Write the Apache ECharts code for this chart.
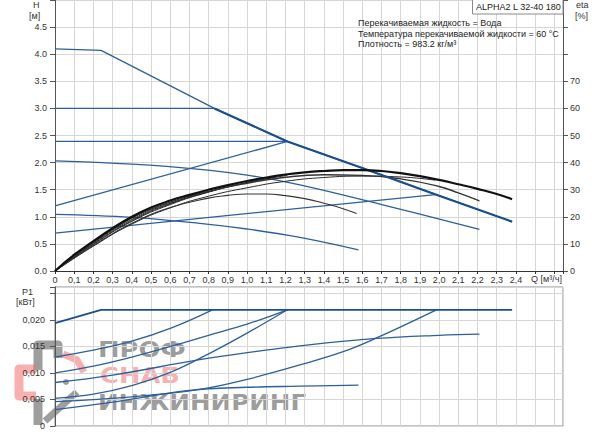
<!DOCTYPE html>
<html>
<head>
<meta charset="utf-8">
<script src="https://cdn.jsdelivr.net/npm/echarts@6/dist/echarts.min.js"></script>
<style>
html,body{margin:0;padding:0;background:#fff;}
#chart{width:600px;height:434px;}
</style>
</head>
<body>
<div id="chart"></div>
<script>
// ---------- DATA ----------
const qLabels = ['0','0,1','0,2','0,3','0,4','0,5','0,6','0,7','0,8','0,9','1,0','1,1','1,2','1,3','1,4','1,5','1,6','1,7','1,8','1,9','2,0','2,1','2,2','2,3','2,4'];
const hLabels = ['0.0','0.5','1.0','1.5','2.0','2.5','3.0','3.5','4.0','4.5'];
const etaLabels = ['0','10','20','30','40','50','60','70'];
const pLabels = ['0','0,005','0,010','0,015','0,020'];

// QH curves [Q m3/h, H m]
const qhMax  = [[0,4.10],[0.24,4.07],[0.83,3.00],[1.21,2.39],[1.6,1.90],[2.0,1.39],[2.38,0.91]];
const qhCP3  = [[0,3.00],[0.83,3.00]];
const qhCP24 = [[0,2.39],[1.21,2.39]];
const qhPP2  = [[0,1.20],[1.21,2.39]];
const qhPP1  = [[0,0.70],[1.98,1.41]];
const qhII   = [[0,2.03],[0.4,1.97],[0.754,1.876],[1.0,1.77],[1.275,1.587],[1.743,1.187],[2.21,0.77]];
const qhI    = [[0,1.045],[0.4,0.99],[0.754,0.88],[1.0,0.775],[1.275,0.62],[1.58,0.39]];

// efficiency curves [Q, eta %]
const etaMax  = [[0,0],[0.1,6.0],[0.2,11.0],[0.3,15.8],[0.4,20.0],[0.5,23.4],[0.6,26.0],[0.7,28.1],[0.8,30.0],[0.9,31.7],[1.0,33.2],[1.1,34.5],[1.2,35.6],[1.3,36.4],[1.4,36.9],[1.5,37.2],[1.6,37.2],[1.7,36.9],[1.8,36.1],[1.9,35.0],[2.0,33.6],[2.1,32.0],[2.2,30.3],[2.3,28.4],[2.38,26.5]];
const etaII   = [[0,0],[0.2,10.6],[0.4,19.6],[0.6,25.4],[0.8,29.4],[1.0,32.4],[1.2,34.6],[1.4,35.5],[1.6,35.3],[1.8,34.0],[2.0,31.2],[2.1,28.8],[2.21,25.9]];
const etaI    = [[0,0],[0.2,9.4],[0.4,17.6],[0.6,23.4],[0.8,26.9],[0.9,27.9],[1.0,28.4],[1.1,28.4],[1.2,27.8],[1.3,26.7],[1.4,25.0],[1.5,23.0],[1.57,21.2]];
const etaCP3  = [[0,0],[0.2,10.3],[0.4,19.0],[0.6,25.0],[0.83,29.8]];
const etaCP24 = [[0,0],[0.2,10.0],[0.4,18.6],[0.6,24.8],[0.8,29.2],[1.0,32.6],[1.21,35.3]];
const etaPP2  = [[0,0],[0.2,9.8],[0.4,18.3],[0.6,24.5],[0.8,29.1],[1.0,32.7],[1.21,35.6]];
const etaPP1  = [[0,0],[0.2,9.2],[0.4,17.3],[0.6,23.3],[0.8,27.6],[1.0,30.7],[1.2,33.1],[1.4,34.5],[1.6,35.0],[1.8,34.7],[1.98,33.5]];

// P1 curves [Q, kW]
const pMax  = [[0,0.0194],[0.24,0.0219],[2.38,0.0219]];
const pCP3  = [[0,0.0130],[0.2,0.0143],[0.4,0.0160],[0.6,0.0184],[0.82,0.0219]];
const pCP24 = [[0,0.0100],[0.2,0.0113],[0.4,0.0130],[0.65,0.0155],[0.8,0.0171],[1.0,0.0192],[1.21,0.0219]];
const pPP2  = [[0,0.0052],[0.2,0.0060],[0.4,0.0076],[0.6,0.0101],[0.8,0.0136],[1.0,0.0175],[1.21,0.0219]];
const pPP1  = [[0,0.0046],[0.4,0.0055],[0.754,0.0069],[1.0,0.0088],[1.275,0.0115],[1.5,0.0140],[1.674,0.0166],[1.986,0.0219]];
const pII   = [[0,0.0082],[0.3,0.0096],[0.754,0.0125],[1.04,0.0140],[1.275,0.0151],[1.674,0.0165],[2.0,0.0171],[2.21,0.0173]];
const pI    = [[0,0.0031],[0.32,0.0046],[0.7,0.0067],[1.0,0.0073],[1.275,0.0075],[1.58,0.0077]];

const pumpName = 'ALPHA2 L 32-40 180';
const infoLines = ['Перекачиваемая жидкость = Вода','Температура перекачиваемой жидкости = 60 °C','Плотность = 983.2 кг/м³'];
const watermark = ['ПРОФ','СНАБ','ИНЖИНИРИНГ'];

// ---------- CHART ----------
const FONT = "'Liberation Sans', Arial, sans-serif";
const BLUE = '#2d5f9a';
const BLUE_D = '#1b4f8c';
const GRIDC = '#d6d6d6';
const WM_GRAY = 'rgba(120,120,120,0.72)';
const WM_RED = 'rgba(240,110,110,0.55)';
const chart = echarts.init(document.getElementById('chart'), null, {renderer:'svg'});

function qFmt(v){ const i=Math.round(v*10); return (Math.abs(v*10-i)<1e-6 && i<qLabels.length) ? qLabels[i] : ''; }
function hFmt(v){ const i=Math.round(v*2); return (Math.abs(v*2-i)<1e-6 && i<hLabels.length) ? hLabels[i] : ''; }
function eFmt(v){ const i=Math.round(v/10); return (Math.abs(v/10-i)<1e-6 && i<etaLabels.length) ? etaLabels[i] : ''; }
function pFmt(v){ const i=Math.round(v/0.005); return (Math.abs(v/0.005-i)<1e-6 && i<pLabels.length) ? pLabels[i] : ''; }

function ln(data, x, y, color, width, smooth, z){
  return {type:'line', data:data, xAxisIndex:x, yAxisIndex:y, symbol:'none', smooth:smooth||false,
    lineStyle:{color:color, width:width}, z:z||3, silent:true};
}

const labelStyle = {fontFamily:FONT, fontSize:9, color:'#333'};

const option = {
  animation:false,
  grid:[
    {left:55, right:37, top:0, bottom:163, show:false},
    {left:55, right:37, top:287, bottom:8, show:true, borderColor:'#8a8a8a', borderWidth:1}
  ],
  xAxis:[
    {type:'value', gridIndex:0, min:0, max:2.645, interval:0.1,
     axisLine:{show:true, onZero:false, lineStyle:{color:'#333', width:1}},
     axisTick:{show:true, length:3, lineStyle:{color:'#333'}},
     axisLabel:Object.assign({margin:4, formatter:qFmt, showMaxLabel:true}, labelStyle),
     splitLine:{show:true, lineStyle:{color:GRIDC, width:1}}},
    {type:'value', gridIndex:1, min:0, max:2.645, interval:0.1,
     axisLine:{show:false}, axisTick:{show:false}, axisLabel:{show:false},
     splitLine:{show:true, lineStyle:{color:GRIDC, width:1}}}
  ],
  yAxis:[
    {type:'value', gridIndex:0, min:0, max:5, interval:0.5, position:'left',
     axisLine:{show:true, lineStyle:{color:'#555', width:1}},
     axisTick:{show:true, length:5, lineStyle:{color:'#555'}},
     axisLabel:Object.assign({margin:8, formatter:hFmt}, labelStyle),
     splitLine:{show:true, lineStyle:{color:GRIDC, width:1}}},
    {type:'value', gridIndex:0, min:0, max:100, interval:10, position:'right',
     axisLine:{show:true, lineStyle:{color:'#555', width:1}},
     axisTick:{show:true, length:5, lineStyle:{color:'#555'}},
     axisLabel:Object.assign({margin:7, formatter:eFmt}, labelStyle),
     splitLine:{show:false}},
    {type:'value', gridIndex:1, min:0, max:0.0262, interval:0.005, position:'left',
     axisLine:{show:true, lineStyle:{color:'#555', width:1}},
     axisTick:{show:true, length:5, lineStyle:{color:'#555'}},
     axisLabel:Object.assign({margin:10, formatter:pFmt}, labelStyle),
     splitLine:{show:true, lineStyle:{color:GRIDC, width:1}}}
  ],
  series:[
    ln(qhCP3,0,0,BLUE,1.3),
    ln(qhCP24,0,0,BLUE,1.3),
    ln(qhPP2,0,0,BLUE,1.3),
    ln(qhPP1,0,0,BLUE,1.3),
    ln(qhII,0,0,BLUE,1.3,0.4),
    ln(qhI,0,0,BLUE,1.3,0.4),
    ln(qhMax,0,0,BLUE,1.3),
    ln(qhMax.filter(p=>p[0]>=0.83),0,0,BLUE_D,2.2,false,4),
    ln(etaCP3,0,1,'#2a2a2a',1,0.5),
    ln(etaCP24,0,1,'#2a2a2a',1,0.5),
    ln(etaPP2,0,1,'#2a2a2a',1,0.5),
    ln(etaPP1,0,1,'#2a2a2a',1,0.5),
    ln(etaI,0,1,'#333',1.1,0.5),
    ln(etaII,0,1,'#333',1.4,0.5),
    ln(etaMax,0,1,'#111',2.2,0.5,5),
    ln(pCP3,1,2,BLUE,1.3,0.4),
    ln(pCP24,1,2,BLUE,1.3,0.4),
    ln(pPP2,1,2,BLUE,1.3,0.4),
    ln(pPP1,1,2,BLUE,1.3,0.4),
    ln(pII,1,2,BLUE,1.3,0.4),
    ln(pI,1,2,BLUE,1.3,0.4),
    ln(pMax,1,2,BLUE_D,1.8)
  ],
  graphic:[
    {type:'text', left:33, top:0, style:{text:'H', font:'9px '+FONT, fill:'#333'}},
    {type:'text', left:29, top:11, style:{text:'[м]', font:'9px '+FONT, fill:'#333'}},
    {type:'text', left:576, top:0, style:{text:'eta', font:'9px '+FONT, fill:'#333'}},
    {type:'text', left:575, top:11, style:{text:'[%]', font:'9px '+FONT, fill:'#333'}},
    {type:'text', left:531, top:274, style:{text:'Q [м³/ч]', font:'9px '+FONT, fill:'#333'}},
    {type:'text', left:22, top:287, style:{text:'P1', font:'9px '+FONT, fill:'#333'}},
    {type:'text', left:16, top:297, style:{text:'[кВт]', font:'9px '+FONT, fill:'#333'}},
    {type:'rect', shape:{x:472.5, y:-1, width:90.5, height:15}, style:{fill:'#fff', stroke:'#8a8a8a', lineWidth:1}, z:10},
    {type:'text', left:476, top:2, z:11, style:{text:pumpName, font:'9px '+FONT, fill:'#222'}},
    {type:'text', left:358, top:18, z:11, style:{text:infoLines[0], font:'9px '+FONT, fill:'#222'}},
    {type:'text', left:358, top:29, z:11, style:{text:infoLines[1], font:'9px '+FONT, fill:'#222'}},
    {type:'text', left:358, top:39, z:11, style:{text:infoLines[2], font:'9px '+FONT, fill:'#222'}},
    // watermark
    {type:'group', z:20, silent:true, children:[
      {type:'polyline', shape:{points:[[38,370],[38,345],[58,345],[58,358]]}, style:{stroke:WM_GRAY, lineWidth:9, fill:null, lineJoin:'round'}},
      {type:'polyline', shape:{points:[[38,399],[38,425]]}, style:{stroke:WM_GRAY, lineWidth:9, fill:null}},
      {type:'polyline', shape:{points:[[36,369],[19,369],[19,396],[36,396]]}, style:{stroke:WM_RED, lineWidth:9, fill:null, lineJoin:'round'}},
      {type:'polyline', shape:{points:[[63,354],[77,360],[84,372]]}, style:{stroke:WM_RED, lineWidth:7, fill:null, lineJoin:'round'}},
      {type:'polyline', shape:{points:[[45,421],[77,392]]}, style:{stroke:WM_GRAY, lineWidth:7, fill:null}},
      {type:'circle', shape:{cx:66, cy:382, r:3}, style:{fill:WM_GRAY}},
      {type:'text', x:98, y:339, scaleX:1.17, style:{text:watermark[0], font:'bold 22px "DejaVu Sans"', verticalAlign:'top', fill:WM_GRAY}},
      {type:'text', x:100, y:365, scaleX:1.17, style:{text:watermark[1], font:'bold 22px "DejaVu Sans"', verticalAlign:'top', fill:WM_RED}},
      {type:'text', x:98, y:391, scaleX:1.12, style:{text:watermark[2], font:'bold 22px "DejaVu Sans"', verticalAlign:'top', fill:WM_GRAY}}
    ]}
  ]
};
chart.setOption(option);
</script>
</body>
</html>
